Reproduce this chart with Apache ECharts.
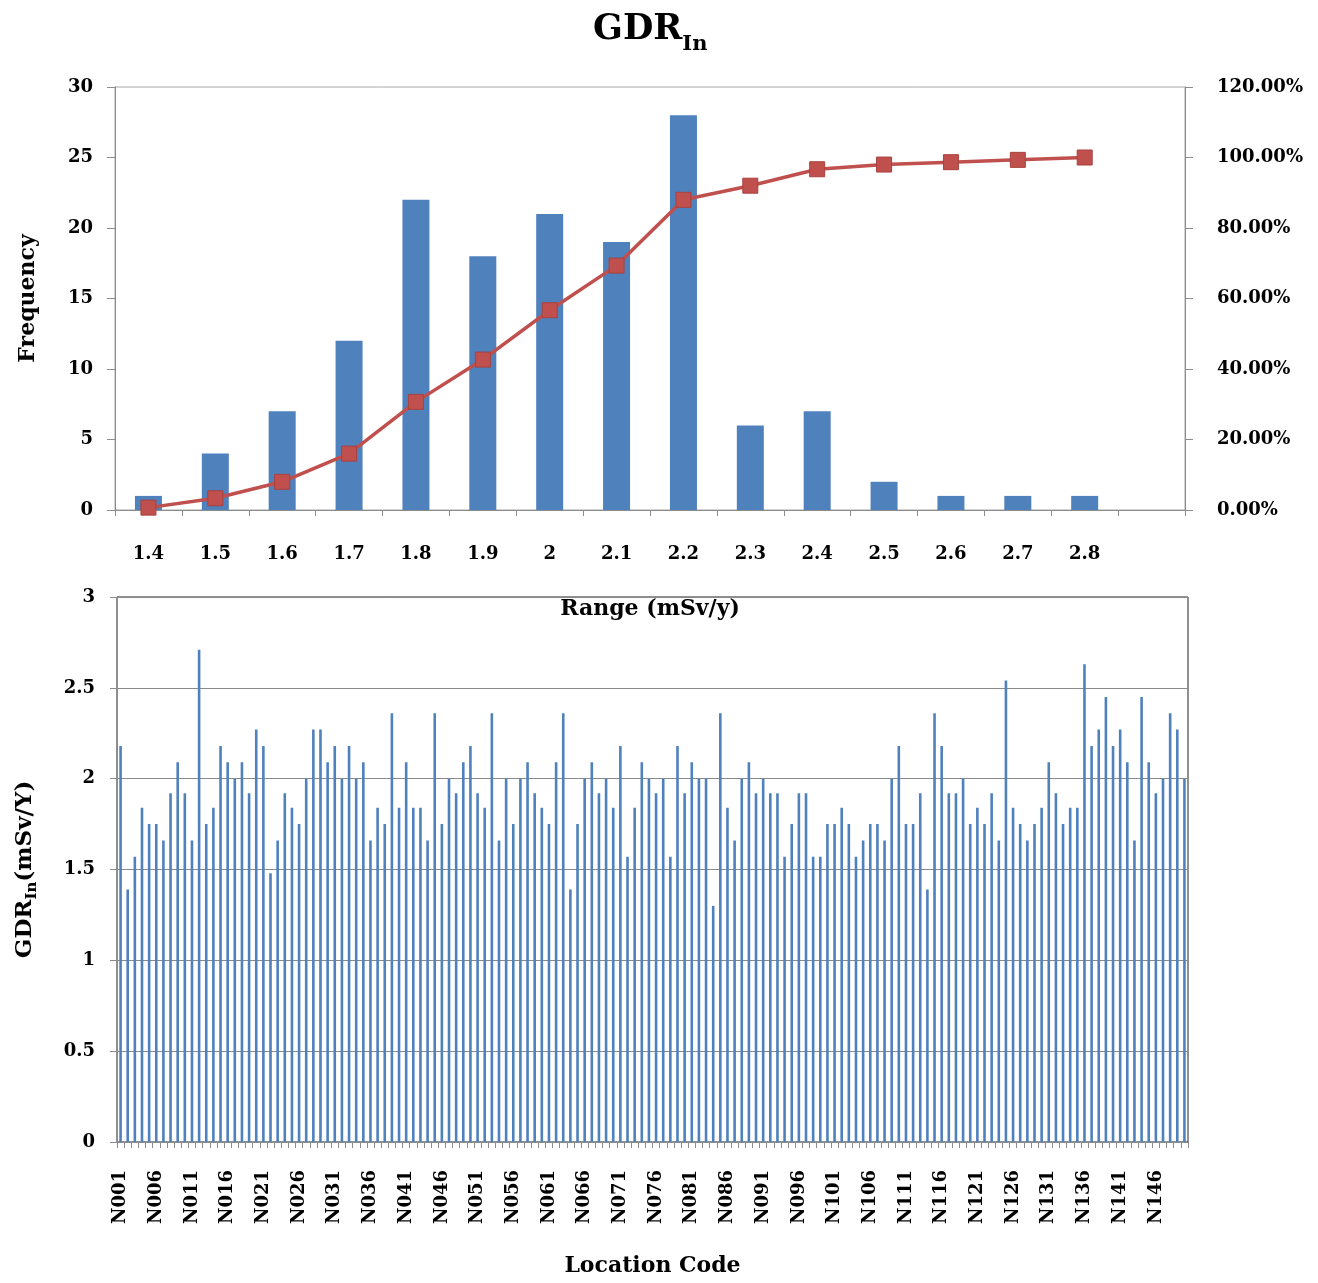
<!DOCTYPE html>
<html>
<head>
<meta charset="utf-8">
<title>GDR In</title>
<script src="https://cdn.jsdelivr.net/npm/echarts@6/dist/echarts.min.js"></script>
<style>
  html, body { margin: 0; padding: 0; background: #fff; }
  #chart { width: 1318px; height: 1283px; }
</style>
</head>
<body>
<div id="chart"></div>
<script>
// Histogram of indoor gamma dose rate (bins in mSv/y), last bin left unlabelled
const rangeBins = ['1.4', '1.5', '1.6', '1.7', '1.8', '1.9', '2', '2.1', '2.2', '2.3', '2.4', '2.5', '2.6', '2.7', '2.8', ''];
const frequency = [1, 4, 7, 12, 22, 18, 21, 19, 28, 6, 7, 2, 1, 1, 1, null];
const cumulativePct = [0.67, 3.33, 8.00, 16.00, 30.67, 42.67, 56.67, 69.33, 88.00, 92.00, 96.67, 98.00, 98.67, 99.33, 100.00, null];

// Indoor dose rate per location, N001 ... N150
const gdrIn = [
  2.18, 1.39, 1.57, 1.84, 1.75, 1.75, 1.66, 1.92, 2.09, 1.92,
  1.66, 2.71, 1.75, 1.84, 2.18, 2.09, 2.00, 2.09, 1.92, 2.27,
  2.18, 1.48, 1.66, 1.92, 1.84, 1.75, 2.00, 2.27, 2.27, 2.09,
  2.18, 2.00, 2.18, 2.00, 2.09, 1.66, 1.84, 1.75, 2.36, 1.84,
  2.09, 1.84, 1.84, 1.66, 2.36, 1.75, 2.00, 1.92, 2.09, 2.18,
  1.92, 1.84, 2.36, 1.66, 2.00, 1.75, 2.00, 2.09, 1.92, 1.84,
  1.75, 2.09, 2.36, 1.39, 1.75, 2.00, 2.09, 1.92, 2.00, 1.84,
  2.18, 1.57, 1.84, 2.09, 2.00, 1.92, 2.00, 1.57, 2.18, 1.92,
  2.09, 2.00, 2.00, 1.30, 2.36, 1.84, 1.66, 2.00, 2.09, 1.92,
  2.00, 1.92, 1.92, 1.57, 1.75, 1.92, 1.92, 1.57, 1.57, 1.75,
  1.75, 1.84, 1.75, 1.57, 1.66, 1.75, 1.75, 1.66, 2.00, 2.18,
  1.75, 1.75, 1.92, 1.39, 2.36, 2.18, 1.92, 1.92, 2.00, 1.75,
  1.84, 1.75, 1.92, 1.66, 2.54, 1.84, 1.75, 1.66, 1.75, 1.84,
  2.09, 1.92, 1.75, 1.84, 1.84, 2.63, 2.18, 2.27, 2.45, 2.18,
  2.27, 2.09, 1.66, 2.45, 2.09, 1.92, 2.00, 2.36, 2.27, 2.00
];
const locationCodes = gdrIn.map((_, i) => 'N' + String(i + 1).padStart(3, '0'));

// Axis tick values
const freqTicks = { min: 0, max: 30, interval: 5 };
const pctTicks = { min: 0, max: 120, interval: 20 };
const gdrTicks = { min: 0, max: 3, interval: 0.5 };

const FONT = 'DejaVu Serif';
const BLUE = '#4F81BD';
const RED = '#C0504D';
const AXIS_GREY = '#8c8c8c';

const labelStyle = { color: '#000', fontFamily: FONT, fontWeight: 'bold', fontSize: 18 };
const nameStyle = { color: '#000', fontFamily: FONT, fontWeight: 'bold', fontSize: 22 };

const chart = echarts.init(document.getElementById('chart'), null, { renderer: 'canvas' });

chart.setOption({
  backgroundColor: '#fff',
  animation: false,
  title: {
    text: '{a|GDR}{b|In}',
    left: 588,
    top: 0,
    textStyle: {
      rich: {
        a: { fontFamily: FONT, fontWeight: 'bold', fontSize: 35, color: '#000', lineHeight: 50, verticalAlign: 'middle' },
        b: { fontFamily: FONT, fontWeight: 'bold', fontSize: 21, color: '#000', lineHeight: 50, verticalAlign: 'bottom' }
      }
    }
  },
  grid: [
    { left: 115, right: 133, top: 87, height: 423, show: true, borderColor: '#a6a6a6', borderWidth: 1, backgroundColor: 'transparent' },
    { left: 117, right: 130, top: 597, height: 545, show: true, borderColor: '#222', borderWidth: 1, backgroundColor: 'transparent' }
  ],
  xAxis: [
    {
      type: 'category', gridIndex: 0, data: rangeBins,
      name: 'Range (mSv/y)', nameLocation: 'middle', nameGap: 88, nameTextStyle: nameStyle,
      axisLine: { lineStyle: { color: AXIS_GREY, width: 1 } },
      axisTick: { show: true, inside: false, length: 6, lineStyle: { color: AXIS_GREY } },
      axisLabel: Object.assign({ margin: 35, interval: 0 }, labelStyle),
      splitLine: { show: false }
    },
    {
      type: 'category', gridIndex: 1, data: locationCodes,
      name: 'Location Code', nameLocation: 'middle', nameGap: 113, nameTextStyle: nameStyle,
      axisLine: { lineStyle: { color: AXIS_GREY, width: 1 } },
      axisTick: { show: true, inside: false, length: 6, interval: 0, lineStyle: { color: AXIS_GREY } },
      axisLabel: Object.assign({ rotate: 90, interval: 4, margin: 28 }, labelStyle, { fontSize: 18 }),
      splitLine: { show: false }
    }
  ],
  yAxis: [
    {
      type: 'value', gridIndex: 0, min: freqTicks.min, max: freqTicks.max, interval: freqTicks.interval,
      name: 'Frequency', nameLocation: 'middle', nameGap: 76, nameTextStyle: nameStyle,
      axisLine: { show: true, lineStyle: { color: AXIS_GREY } },
      axisTick: { show: true, length: 8, lineStyle: { color: AXIS_GREY } },
      axisLabel: Object.assign({ margin: 22 }, labelStyle),
      splitLine: { show: false }
    },
    {
      type: 'value', gridIndex: 0, position: 'right', min: pctTicks.min, max: pctTicks.max, interval: pctTicks.interval,
      axisLine: { show: true, lineStyle: { color: AXIS_GREY } },
      axisTick: { show: true, length: 8, lineStyle: { color: AXIS_GREY } },
      axisLabel: Object.assign({ margin: 32, formatter: v => v.toFixed(2) + '%' }, labelStyle),
      splitLine: { show: false }
    },
    {
      type: 'value', gridIndex: 1, min: gdrTicks.min, max: gdrTicks.max, interval: gdrTicks.interval,
      name: '{a|GDR}{b|In}{a|(mSv/Y)}', nameLocation: 'middle', nameGap: 77,
      nameTextStyle: {
        rich: {
          a: { fontFamily: FONT, fontWeight: 'bold', fontSize: 23, color: '#000', lineHeight: 30, verticalAlign: 'middle' },
          b: { fontFamily: FONT, fontWeight: 'bold', fontSize: 15, color: '#000', lineHeight: 30, verticalAlign: 'bottom' }
        }
      },
      axisLine: { show: true, lineStyle: { color: AXIS_GREY } },
      axisTick: { show: true, length: 7, lineStyle: { color: AXIS_GREY } },
      axisLabel: Object.assign({ margin: 22 }, labelStyle),
      splitLine: { show: true, lineStyle: { color: '#8a8a8a', width: 1.2 } }
    }
  ],
  series: [
    {
      name: 'Frequency', type: 'bar', xAxisIndex: 0, yAxisIndex: 0,
      data: frequency, barWidth: 27,
      itemStyle: { color: BLUE }
    },
    {
      name: 'Cumulative %', type: 'line', xAxisIndex: 0, yAxisIndex: 1,
      data: cumulativePct, symbol: 'rect', symbolSize: 15, z: 5,
      lineStyle: { color: RED, width: 3.5 },
      itemStyle: { color: RED, borderColor: '#a9413e', borderWidth: 1 }
    },
    {
      name: 'GDR In', type: 'bar', xAxisIndex: 1, yAxisIndex: 2,
      data: gdrIn, barWidth: 2.6,
      itemStyle: { color: BLUE }
    }
  ]
});
</script>
</body>
</html>
